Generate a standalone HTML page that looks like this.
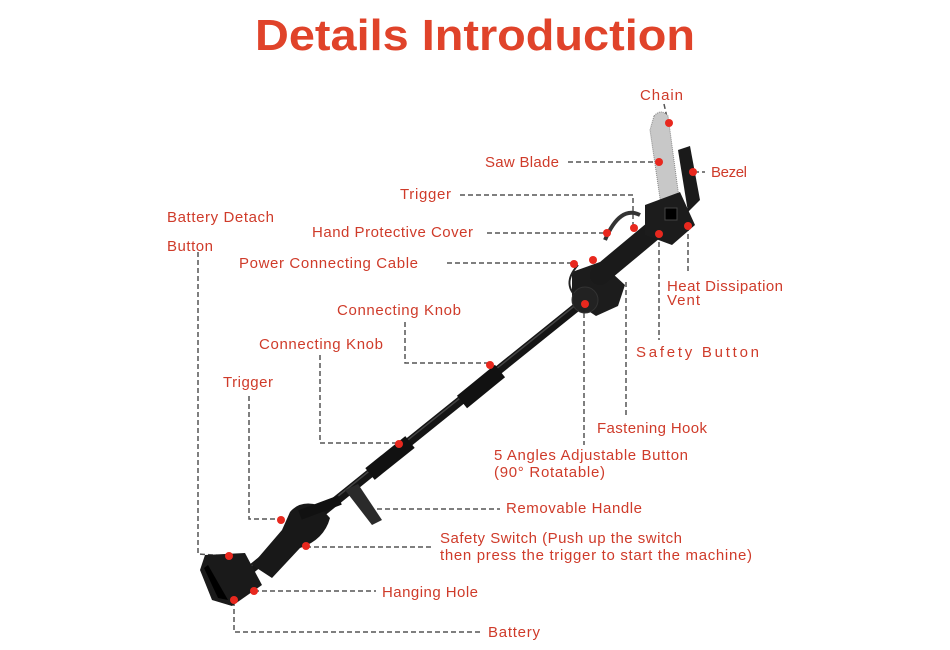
<!DOCTYPE html>
<html><head><meta charset="utf-8"><style>
html,body{margin:0;padding:0;background:#fff;}
svg{display:block;}
.t{font-family:"Liberation Sans",sans-serif;font-size:15px;fill:#cf3b2a;}
.d{stroke:#555;stroke-width:1.5;stroke-dasharray:5 3;fill:none;}
.dot{fill:#e8281e;}
</style></head><body>
<svg width="950" height="650" viewBox="0 0 950 650" xmlns="http://www.w3.org/2000/svg">
<text x="475" y="50" text-anchor="middle" textLength="440" lengthAdjust="spacingAndGlyphs" style="font-family:'Liberation Sans',sans-serif;font-weight:bold;font-size:44px;fill:#e0432a;">Details Introduction</text>

<!-- connectors -->
<path class="d" d="M664 104 L668 122"/>
<path class="d" d="M568 162 L658 162"/>
<path class="d" d="M694 172 L705 172"/>
<path class="d" d="M460 195 L633 195 L633 228"/>
<path class="d" d="M487 233 L607 233"/>
<path class="d" d="M447 263 L574 263"/>
<path class="d" d="M688 226 L688 272"/>
<path class="d" d="M659 234 L659 340"/>
<path class="d" d="M626 282 L626 416"/>
<path class="d" d="M584 305 L584 445"/>
<path class="d" d="M405 322 L405 363 L490 363"/>
<path class="d" d="M320 355 L320 443 L398 443"/>
<path class="d" d="M249 396 L249 519 L281 519"/>
<path class="d" d="M198 252 L198 554 L229 556"/>
<path class="d" d="M377 509 L500 509"/>
<path class="d" d="M306 547 L432 547"/>
<path class="d" d="M254 591 L376 591"/>
<path class="d" d="M234 601 L234 632 L480 632"/>

<!-- pole -->
<line x1="250" y1="570" x2="588" y2="298" stroke="#151515" stroke-width="9" stroke-linecap="round"/>
<line x1="250" y1="567" x2="588" y2="295" stroke="#444" stroke-width="1.5"/>
<line x1="462" y1="402" x2="500" y2="371" stroke="#111" stroke-width="16"/>
<line x1="370" y1="474" x2="410" y2="442" stroke="#111" stroke-width="15"/>
<path d="M345 490 L372 525 L382 520 L358 484 Z" fill="#2a2a2a"/>
<path d="M290 512 Q300 500 318 505 L330 518 Q324 540 300 548 L272 578 L252 565 L282 530 Z" fill="#181818"/>
<line x1="300" y1="515" x2="340" y2="500" stroke="#111" stroke-width="10"/>
<path d="M205 555 L245 553 L262 585 L232 606 L212 600 L200 570 Z" fill="#1a1a1a"/>
<path d="M208 565 L228 600 L218 598 L204 568 Z" fill="#000"/>
<path d="M572 272 L600 262 L625 285 L618 306 L596 316 L572 300 Z" fill="#1c1c1c"/>
<circle cx="585" cy="300" r="13" fill="#222" stroke="#333"/>
<path d="M578 265 Q560 285 580 300" stroke="#222" stroke-width="2" fill="none"/>
<line x1="600" y1="275" x2="660" y2="225" stroke="#1a1a1a" stroke-width="20" stroke-linecap="round"/>
<path d="M605 240 Q620 205 640 215" stroke="#333" stroke-width="4" fill="none"/>
<path d="M654 116 Q661 108 668 116 L680 205 L662 212 L650 130 Z" fill="#c8c8c8" stroke="#888" stroke-width="1" stroke-dasharray="1 1"/>
<path d="M678 150 L690 146 L700 200 L688 212 Z" fill="#1a1a1a"/>
<path d="M645 205 L680 192 L695 225 L672 245 L645 235 Z" fill="#1c1c1c"/>
<rect x="665" y="208" width="12" height="12" fill="#000" stroke="#444"/>

<g class="dot">
<circle cx="669" cy="123" r="4"/><circle cx="659" cy="162" r="4"/><circle cx="693" cy="172" r="4"/>
<circle cx="634" cy="228" r="4"/><circle cx="659" cy="234" r="4"/><circle cx="688" cy="226" r="4"/>
<circle cx="607" cy="233" r="4"/><circle cx="574" cy="264" r="4"/><circle cx="593" cy="260" r="4"/>
<circle cx="585" cy="304" r="4"/><circle cx="490" cy="365" r="4"/><circle cx="399" cy="444" r="4"/>
<circle cx="281" cy="520" r="4"/><circle cx="229" cy="556" r="4"/><circle cx="306" cy="546" r="4"/>
<circle cx="254" cy="591" r="4"/><circle cx="234" cy="600" r="4"/>
</g>

<text class="t" x="640" y="100" textLength="43">Chain</text>
<text class="t" x="485" y="167" textLength="74">Saw Blade</text>
<text class="t" x="711" y="177" textLength="36">Bezel</text>
<text class="t" x="400" y="199" textLength="51">Trigger</text>
<text class="t" x="167" y="222" textLength="107">Battery Detach</text>
<text class="t" x="167" y="251" textLength="46">Button</text>
<text class="t" x="312" y="237" textLength="161">Hand Protective Cover</text>
<text class="t" x="239" y="268" textLength="179">Power Connecting Cable</text>
<text class="t" x="667" y="291" textLength="116">Heat Dissipation</text>
<text class="t" x="667" y="305" textLength="33">Vent</text>
<text class="t" x="337" y="315" textLength="124">Connecting Knob</text>
<text class="t" x="259" y="349" textLength="124">Connecting Knob</text>
<text class="t" x="636" y="357" textLength="123">Safety Button</text>
<text class="t" x="223" y="387" textLength="50">Trigger</text>
<text class="t" x="597" y="433" textLength="110">Fastening Hook</text>
<text class="t" x="494" y="460" textLength="194">5 Angles Adjustable Button</text>
<text class="t" x="494" y="477" textLength="111">(90° Rotatable)</text>
<text class="t" x="506" y="513" textLength="136">Removable Handle</text>
<text class="t" x="440" y="543" textLength="242">Safety Switch (Push up the switch</text>
<text class="t" x="440" y="560" textLength="312">then press the trigger to start the machine)</text>
<text class="t" x="382" y="597" textLength="96">Hanging Hole</text>
<text class="t" x="488" y="637" textLength="52">Battery</text>
</svg>
</body></html>
